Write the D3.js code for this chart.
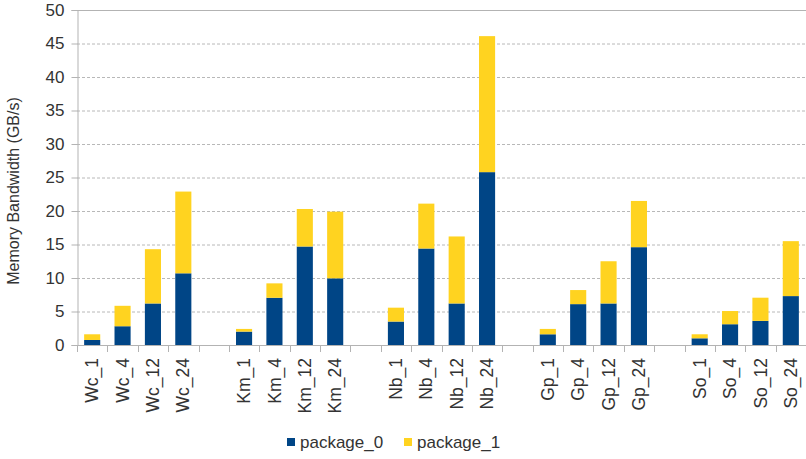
<!DOCTYPE html>
<html>
<head>
<meta charset="utf-8">
<script src="https://cdn.jsdelivr.net/npm/d3@7"></script>
<style>
  body { margin: 0; background: #fff; }
  text { font-family: "Liberation Sans", Arial, sans-serif; fill: #333; }
</style>
</head>
<body>
<div id="container"></div>
<script>
// Chart size
const width = 806, height = 459;
const margin = {top: 10, right: 0, bottom: 114, left: 77};

// Data
const groups = ["Wc", "Km", "Nb", "Gp", "So"];
const threads = ["1", "4", "12", "24"];
const seriesNames = ["package_0", "package_1"];
const package0 = [0.75, 2.8, 6.2, 10.7,  2.0, 7.05, 14.7, 9.95,  3.5, 14.4, 6.2, 25.8,  1.6, 6.1, 6.2, 14.6,  1.0, 3.1, 3.6, 7.3];
const package1 = [0.85, 3.05, 8.1, 12.2,  0.4, 2.15, 5.6, 9.95,  2.07, 6.7, 10.0, 20.3,  0.8, 2.1, 6.3, 6.9,  0.6, 1.97, 3.46, 8.2];
const yTicks = [0, 5, 10, 15, 20, 25, 30, 35, 40, 45, 50];

const colors = d3.scaleOrdinal().domain(seriesNames).range(["#004586", "#ffd320"]);

// Build the slots: 4 bars per group, one empty slot between groups
let slots = [];
let rows = [];
groups.forEach((g, gi) => {
    threads.forEach((t, ti) => {
        const i = gi * threads.length + ti;
        const name = g + "_" + t;
        slots.push(name);
        rows.push({name: name, package_0: package0[i], package_1: package1[i]});
    });
    if (gi < groups.length - 1) slots.push("gap" + gi);
});

const svg = d3.select("#container")
    .append("svg")
    .attr("width", width)
    .attr("height", height);

const x = d3.scaleBand()
    .domain(slots)
    .range([margin.left, width - margin.right])
    .paddingInner(0.47)
    .paddingOuter(0.235);

const y = d3.scaleLinear()
    .domain([0, 50])
    .range([height - margin.bottom, margin.top]);

// Horizontal grid lines
svg.append("g")
    .selectAll("line")
    .data(yTicks.filter(d => d > 0 && d < 50))
    .enter()
    .append("line")
    .attr("x1", margin.left)
    .attr("x2", width - margin.right)
    .attr("y1", d => y(d) + 0.5)
    .attr("y2", d => y(d) + 0.5)
    .attr("stroke", "#b8b8b8")
    .attr("stroke-dasharray", "3,2");

// Top border line
svg.append("line")
    .attr("x1", margin.left)
    .attr("x2", width - margin.right)
    .attr("y1", y(50) + 0.5)
    .attr("y2", y(50) + 0.5)
    .attr("stroke", "#b3b3b3");

// Stacked bars
const stacked = d3.stack().keys(seriesNames)(rows);

svg.append("g")
    .selectAll("g")
    .data(stacked)
    .enter()
    .append("g")
    .attr("fill", d => colors(d.key))
    .selectAll("rect")
    .data(d => d)
    .enter()
    .append("rect")
    .attr("x", d => x(d.data.name))
    .attr("width", x.bandwidth())
    .attr("y", d => y(d[1]))
    .attr("height", d => y(d[0]) - y(d[1]));

// Y axis
const yAxis = svg.append("g")
    .attr("transform", `translate(${margin.left + 0.5},0)`)
    .call(d3.axisLeft(y).tickValues(yTicks).tickSize(6).tickPadding(7));
yAxis.selectAll("path, line").attr("stroke", "#b3b3b3");
yAxis.selectAll("text")
    .attr("font-size", 17)
    .attr("font-family", "Liberation Sans, Arial, sans-serif")
    .attr("fill", "#333");

// X axis: ticks on slot boundaries
const step = x.step();
const bounds = slots.map((s, i) => margin.left + i * step).concat([width - margin.right]);
const xg = svg.append("g");
xg.append("line")
    .attr("x1", margin.left)
    .attr("x2", width - margin.right)
    .attr("y1", y(0) + 0.5)
    .attr("y2", y(0) + 0.5)
    .attr("stroke", "#b3b3b3");
xg.selectAll("line.tick")
    .data(bounds)
    .enter()
    .append("line")
    .attr("class", "tick")
    .attr("x1", d => Math.round(d) + 0.5)
    .attr("x2", d => Math.round(d) + 0.5)
    .attr("y1", y(0))
    .attr("y2", y(0) + 7)
    .attr("stroke", "#b3b3b3");

// Rotated category labels
xg.selectAll("text")
    .data(rows)
    .enter()
    .append("text")
    .attr("transform", d => `translate(${x(d.name) + x.bandwidth() / 2},${y(0) + 13}) rotate(-90)`)
    .attr("text-anchor", "end")
    .attr("dy", "0.35em")
    .attr("font-size", 17.5)
    .text(d => d.name);

// Y axis title
svg.append("text")
    .attr("transform", `translate(19,191) rotate(-90)`)
    .attr("text-anchor", "middle")
    .attr("font-size", 16)
    .text("Memory Bandwidth (GB/s)");

// Legend
const legend = svg.append("g")
    .attr("transform", "translate(287,442)");
const lx = [0, 117];
legend.selectAll("rect")
    .data(seriesNames)
    .enter()
    .append("rect")
    .attr("x", (d, i) => lx[i])
    .attr("y", -4)
    .attr("width", 8)
    .attr("height", 8)
    .attr("fill", d => colors(d));
legend.selectAll("text")
    .data(seriesNames)
    .enter()
    .append("text")
    .attr("x", (d, i) => lx[i] + 13)
    .attr("y", 0)
    .attr("dy", "0.35em")
    .attr("font-size", 17)
    .text(d => d);
</script>
</body>
</html>
